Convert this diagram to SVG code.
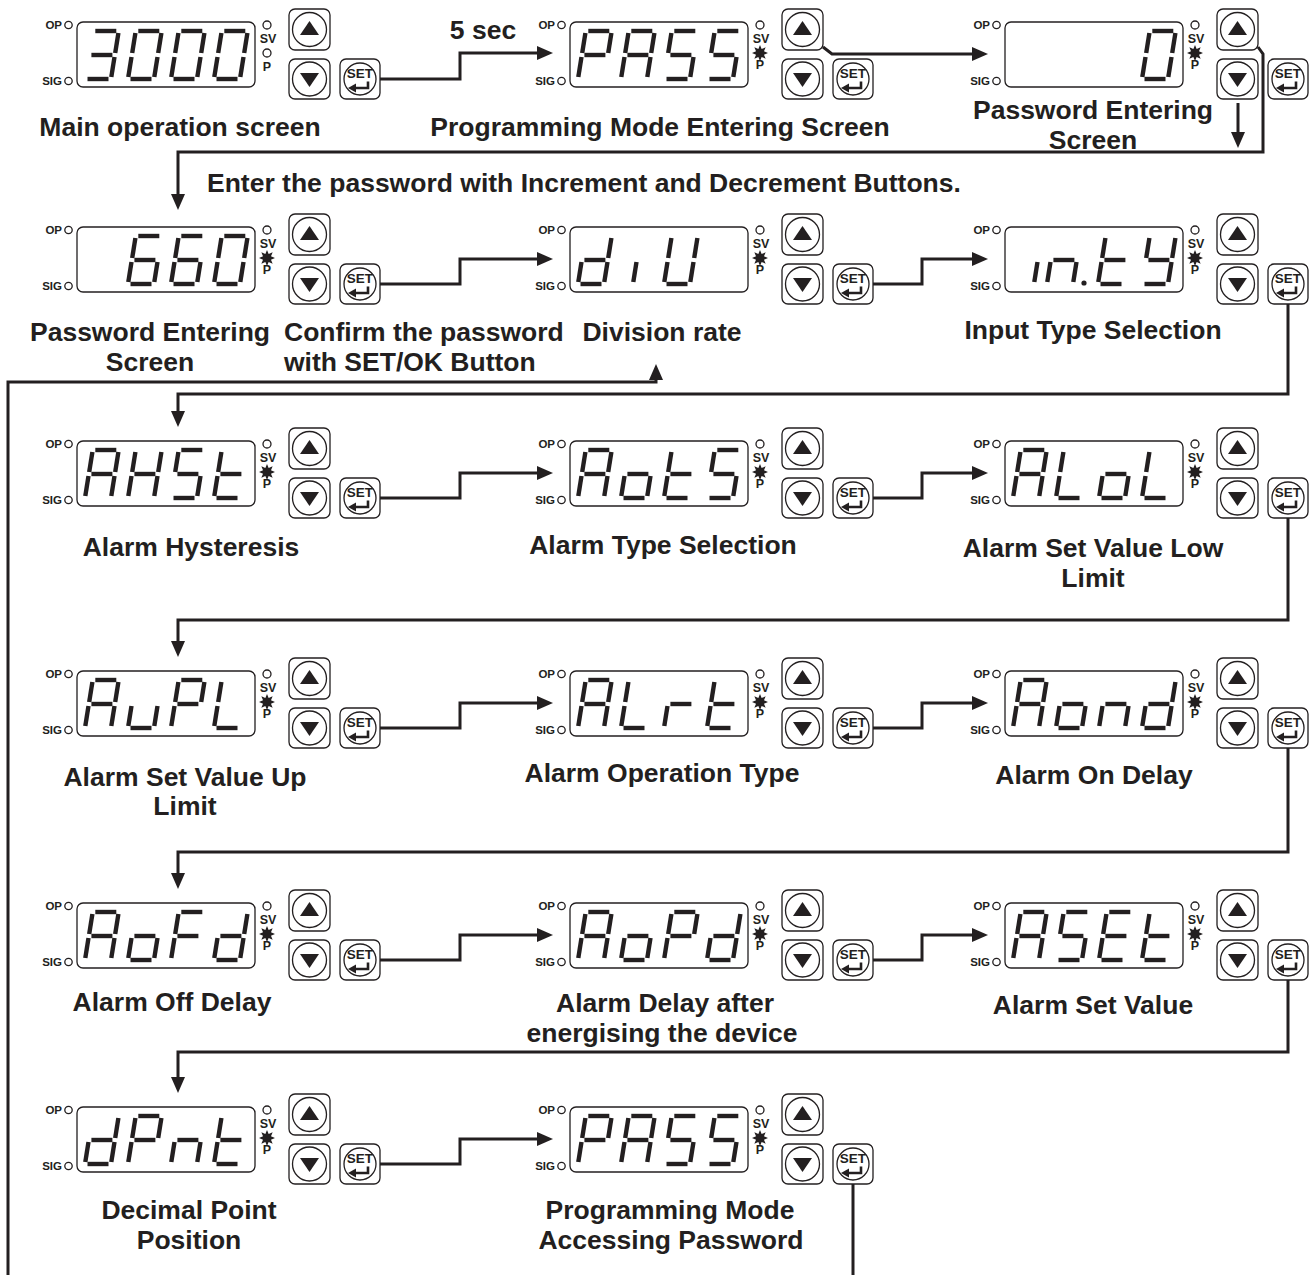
<svg xmlns="http://www.w3.org/2000/svg" xmlns:xlink="http://www.w3.org/1999/xlink" width="1314" height="1275" viewBox="0 0 1314 1275">
<style>
.t{font-family:"Liberation Sans",Arial,sans-serif;font-weight:bold;fill:#231f20}
.lbl{font-size:26.5px;text-anchor:middle}
.lft{font-size:26.5px;text-anchor:start}
.sm{font-size:11.5px}
.ind{font-size:12.5px;text-anchor:middle}
.seg{stroke:#231f20;stroke-width:4.4;fill:none;stroke-linecap:butt}
.box{fill:#fff;stroke:#231f20;stroke-width:1.3}
.ring{fill:none;stroke:#231f20;stroke-width:1.3}
.cn{fill:none;stroke:#231f20;stroke-width:3}
.blk{fill:#231f20}
</style>
<defs>
<marker id="ah" markerUnits="userSpaceOnUse" markerWidth="16" markerHeight="14" refX="8" refY="7" orient="auto">
<path d="M0,0 L16,7 L0,14 Z" fill="#231f20"/>
</marker>
<path id="sa" d="M10.3,-48H31.3"/>
<path id="sb" d="M33.4,-46L30.2,-26"/>
<path id="sc" d="M29.5,-22L26.3,-2"/>
<path id="sd" d="M2.5,0H23.5"/>
<path id="se" d="M3.5,-22L0.3,-2"/>
<path id="sf" d="M7.4,-46L4.2,-26"/>
<path id="sg" d="M6.4,-24H27.4"/>
<g id="c0"><use href="#sa"/><use href="#sb"/><use href="#sc"/><use href="#sd"/><use href="#se"/><use href="#sf"/></g>
<g id="c3"><use href="#sa"/><use href="#sb"/><use href="#sc"/><use href="#sd"/><use href="#sg"/></g>
<g id="c6"><use href="#sa"/><use href="#sc"/><use href="#sd"/><use href="#se"/><use href="#sf"/><use href="#sg"/></g>
<g id="cA"><use href="#sa"/><use href="#sb"/><use href="#sc"/><use href="#se"/><use href="#sf"/><use href="#sg"/></g>
<g id="cP"><use href="#sa"/><use href="#sb"/><use href="#se"/><use href="#sf"/><use href="#sg"/></g>
<g id="cS"><use href="#sa"/><use href="#sc"/><use href="#sd"/><use href="#sf"/><use href="#sg"/></g>
<g id="cH"><use href="#sb"/><use href="#sc"/><use href="#se"/><use href="#sf"/><use href="#sg"/></g>
<g id="ct"><use href="#sd"/><use href="#se"/><use href="#sf"/><use href="#sg"/></g>
<g id="co"><use href="#sc"/><use href="#sd"/><use href="#se"/><use href="#sg"/></g>
<g id="cL"><use href="#sd"/><use href="#se"/><use href="#sf"/></g>
<g id="cu"><use href="#sc"/><use href="#sd"/><use href="#se"/></g>
<g id="cr"><use href="#se"/><use href="#sg"/></g>
<g id="cn"><use href="#sc"/><use href="#se"/><use href="#sg"/></g>
<g id="cd"><use href="#sb"/><use href="#sc"/><use href="#sd"/><use href="#se"/><use href="#sg"/></g>
<g id="cF"><use href="#sa"/><use href="#se"/><use href="#sf"/><use href="#sg"/></g>
<g id="cE"><use href="#sa"/><use href="#sd"/><use href="#se"/><use href="#sf"/><use href="#sg"/></g>
<g id="cY"><use href="#sb"/><use href="#sc"/><use href="#sd"/><use href="#sf"/><use href="#sg"/></g>
<g id="cU"><use href="#sb"/><use href="#sc"/><use href="#sd"/><use href="#se"/><use href="#sf"/></g>
<g id="unit">
<rect class="box" x="0" y="0" width="178" height="65" rx="6"/>
<text class="t sm" x="-15" y="7" text-anchor="end">OP</text>
<circle class="ring" cx="-8.5" cy="3" r="3.7"/>
<text class="t sm" x="-15" y="63" text-anchor="end">SIG</text>
<circle class="ring" cx="-8.5" cy="59" r="3.7"/>
<circle class="ring" cx="190" cy="3" r="4"/>
<text class="t ind" x="191" y="21">SV</text>
<rect class="box" x="212" y="-13" width="41" height="41" rx="6"/>
<circle class="ring" cx="232.5" cy="7.5" r="17"/>
<polygon class="blk" points="232.5,-1 242,13 223,13"/>
<rect class="box" x="212" y="37" width="41" height="40" rx="6"/>
<circle class="ring" cx="232.5" cy="57" r="17"/>
<polygon class="blk" points="223,51 242,51 232.5,65"/>
<rect class="box" x="263" y="37" width="40" height="40" rx="6"/>
<circle class="ring" cx="283" cy="57" r="16"/>
<text class="t" x="283" y="56" font-size="13.5" text-anchor="middle">SET</text>
<path d="M291,59.5V66H278" fill="none" stroke="#231f20" stroke-width="2.6"/>
<polygon class="blk" points="271,66 279,61.5 279,70.5"/>
</g>
<g id="pOff">
<circle class="ring" cx="190" cy="31" r="4"/>
<text class="t ind" x="190" y="49">P</text>
</g>
<g id="pOn">
<polygon class="blk" transform="translate(190,31)" points="8,0 3.97,1.65 5.66,5.66 1.65,3.97 0,8 -1.65,3.97 -5.66,5.66 -3.97,1.65 -8,0 -3.97,-1.65 -5.66,-5.66 -1.65,-3.97 0,-8 1.65,-3.97 5.66,-5.66 3.97,-1.65"/>
<text class="t ind" x="190" y="47">P</text>
</g>
</defs>
<rect x="0" y="0" width="1314" height="1275" fill="#fff"/>

<g id="connectors">
<path class="cn" d="M380,79H460V53H545" marker-end="url(#ah)"/>
<path class="cn" d="M823,47L832,54H980" marker-end="url(#ah)"/>
<path class="cn" d="M1258,47L1263,54V152H178V202" marker-end="url(#ah)"/>
<path class="cn" d="M1238,103V140" marker-end="url(#ah)"/>
<path class="cn" d="M380,284H460V259H545" marker-end="url(#ah)"/>
<path class="cn" d="M873,284H922V259H980" marker-end="url(#ah)"/>
<path class="cn" d="M1288,304V394H178V419" marker-end="url(#ah)"/>
<path class="cn" d="M8,1275V382H656V372" marker-end="url(#ah)"/>
<path class="cn" d="M380,498H460V473H545" marker-end="url(#ah)"/>
<path class="cn" d="M873,498H922V473H980" marker-end="url(#ah)"/>
<path class="cn" d="M1288,518V620H178V649" marker-end="url(#ah)"/>
<path class="cn" d="M380,728H460V703H545" marker-end="url(#ah)"/>
<path class="cn" d="M873,728H922V703H980" marker-end="url(#ah)"/>
<path class="cn" d="M1288,748V852H178V881" marker-end="url(#ah)"/>
<path class="cn" d="M380,960H460V935H545" marker-end="url(#ah)"/>
<path class="cn" d="M873,960H922V935H980" marker-end="url(#ah)"/>
<path class="cn" d="M1288,980V1052H178V1085" marker-end="url(#ah)"/>
<path class="cn" d="M380,1164H460V1139H545" marker-end="url(#ah)"/>
<path class="cn" d="M853,1184V1275"/>
</g>

<g id="notes">
<text class="t lbl" x="483" y="39">5 sec</text>
<text class="t lft" x="207" y="192">Enter the password with Increment and Decrement Buttons.</text>
</g>

<g id="n-main">
<g transform="translate(77,22)"><use href="#unit"/><use href="#pOff"/>
<g class="seg"><use href="#c3" x="8" y="57"/><use href="#c0" x="51" y="57"/><use href="#c0" x="94" y="57"/><use href="#c0" x="137" y="57"/></g></g>
<text class="t lbl" x="180" y="136">Main operation screen</text>
</g>

<g id="n-prog-enter">
<g transform="translate(570,22)"><use href="#unit"/><use href="#pOn"/>
<g class="seg"><use href="#cP" x="8" y="57"/><use href="#cA" x="51" y="57"/><use href="#cS" x="94" y="57"/><use href="#cS" x="137" y="57"/></g></g>
<text class="t lbl" x="660" y="136">Programming Mode Entering Screen</text>
</g>

<g id="n-pass-0">
<g transform="translate(1005,22)"><use href="#unit"/><use href="#pOn"/>
<g class="seg"><use href="#c0" x="137" y="57"/></g></g>
<text class="t lbl" x="1093" y="119">Password Entering</text>
<text class="t lbl" x="1093" y="149">Screen</text>
</g>

<g id="n-pass-660">
<g transform="translate(77,227)"><use href="#unit"/><use href="#pOn"/>
<g class="seg"><use href="#c6" x="51" y="57"/><use href="#c6" x="94" y="57"/><use href="#c0" x="137" y="57"/></g></g>
<text class="t lbl" x="150" y="341">Password Entering</text>
<text class="t lbl" x="150" y="371">Screen</text>
<text class="t lft" x="284" y="341">Confirm the password</text>
<text class="t lft" x="284" y="371">with SET/OK Button</text>
</g>

<g id="n-div">
<g transform="translate(570,227)"><use href="#unit"/><use href="#pOn"/>
<g class="seg"><use href="#cd" x="8" y="57"/><use href="#sc" x="37" y="57"/><use href="#cU" x="94" y="57"/></g></g>
<text class="t lbl" x="662" y="341">Division rate</text>
</g>

<g id="n-inty">
<g transform="translate(1005,227)"><use href="#unit"/><use href="#pOn"/>
<g class="seg"><use href="#sc" x="3" y="57"/><use href="#cn" x="42" y="57"/><use href="#ct" x="93" y="57"/><use href="#cY" x="137" y="57"/></g>
<circle class="blk" cx="79" cy="56" r="2.6"/></g>
<text class="t lbl" x="1093" y="339">Input Type Selection</text>
</g>

<g id="n-ahst">
<g transform="translate(77,441)"><use href="#unit"/><use href="#pOn"/>
<g class="seg"><use href="#cA" x="8" y="57"/><use href="#cH" x="51" y="57"/><use href="#cS" x="94" y="57"/><use href="#ct" x="137" y="57"/></g></g>
<text class="t lbl" x="191" y="556">Alarm Hysteresis</text>
</g>

<g id="n-aots">
<g transform="translate(570,441)"><use href="#unit"/><use href="#pOn"/>
<g class="seg"><use href="#cA" x="8" y="57"/><use href="#co" x="51" y="57"/><use href="#ct" x="94" y="57"/><use href="#cS" x="137" y="57"/></g></g>
<text class="t lbl" x="663" y="554">Alarm Type Selection</text>
</g>

<g id="n-alol">
<g transform="translate(1005,441)"><use href="#unit"/><use href="#pOn"/>
<g class="seg"><use href="#cA" x="8" y="57"/><use href="#cL" x="51" y="57"/><use href="#co" x="94" y="57"/><use href="#cL" x="137" y="57"/></g></g>
<text class="t lbl" x="1093" y="557">Alarm Set Value Low</text>
<text class="t lbl" x="1093" y="587">Limit</text>
</g>

<g id="n-aupl">
<g transform="translate(77,671)"><use href="#unit"/><use href="#pOn"/>
<g class="seg"><use href="#cA" x="8" y="57"/><use href="#cu" x="51" y="57"/><use href="#cP" x="94" y="57"/><use href="#cL" x="137" y="57"/></g></g>
<text class="t lbl" x="185" y="786">Alarm Set Value Up</text>
<text class="t lbl" x="185" y="815">Limit</text>
</g>

<g id="n-alrt">
<g transform="translate(570,671)"><use href="#unit"/><use href="#pOn"/>
<g class="seg"><use href="#cA" x="8" y="57"/><use href="#cL" x="51" y="57"/><use href="#cr" x="94" y="57"/><use href="#ct" x="137" y="57"/></g></g>
<text class="t lbl" x="662" y="782">Alarm Operation Type</text>
</g>

<g id="n-aond">
<g transform="translate(1005,671)"><use href="#unit"/><use href="#pOn"/>
<g class="seg"><use href="#cA" x="8" y="57"/><use href="#co" x="51" y="57"/><use href="#cn" x="94" y="57"/><use href="#cd" x="137" y="57"/></g></g>
<text class="t lbl" x="1094" y="784">Alarm On Delay</text>
</g>

<g id="n-aofd">
<g transform="translate(77,903)"><use href="#unit"/><use href="#pOn"/>
<g class="seg"><use href="#cA" x="8" y="57"/><use href="#co" x="51" y="57"/><use href="#cF" x="94" y="57"/><use href="#cd" x="137" y="57"/></g></g>
<text class="t lbl" x="172" y="1011">Alarm Off Delay</text>
</g>

<g id="n-aopd">
<g transform="translate(570,903)"><use href="#unit"/><use href="#pOn"/>
<g class="seg"><use href="#cA" x="8" y="57"/><use href="#co" x="51" y="57"/><use href="#cP" x="94" y="57"/><use href="#cd" x="137" y="57"/></g></g>
<text class="t lbl" x="665" y="1012">Alarm Delay after</text>
<text class="t lbl" x="662" y="1042">energising the device</text>
</g>

<g id="n-aset">
<g transform="translate(1005,903)"><use href="#unit"/><use href="#pOn"/>
<g class="seg"><use href="#cA" x="8" y="57"/><use href="#cS" x="51" y="57"/><use href="#cE" x="94" y="57"/><use href="#ct" x="137" y="57"/></g></g>
<text class="t lbl" x="1093" y="1014">Alarm Set Value</text>
</g>

<g id="n-dpnt">
<g transform="translate(77,1107)"><use href="#unit"/><use href="#pOn"/>
<g class="seg"><use href="#cd" x="8" y="57"/><use href="#cP" x="51" y="57"/><use href="#cn" x="94" y="57"/><use href="#ct" x="137" y="57"/></g></g>
<text class="t lbl" x="189" y="1219">Decimal Point</text>
<text class="t lbl" x="189" y="1249">Position</text>
</g>

<g id="n-pass-access">
<g transform="translate(570,1107)"><use href="#unit"/><use href="#pOn"/>
<g class="seg"><use href="#cP" x="8" y="57"/><use href="#cA" x="51" y="57"/><use href="#cS" x="94" y="57"/><use href="#cS" x="137" y="57"/></g></g>
<text class="t lbl" x="670" y="1219">Programming Mode</text>
<text class="t lbl" x="671" y="1249">Accessing Password</text>
</g>
</svg>
